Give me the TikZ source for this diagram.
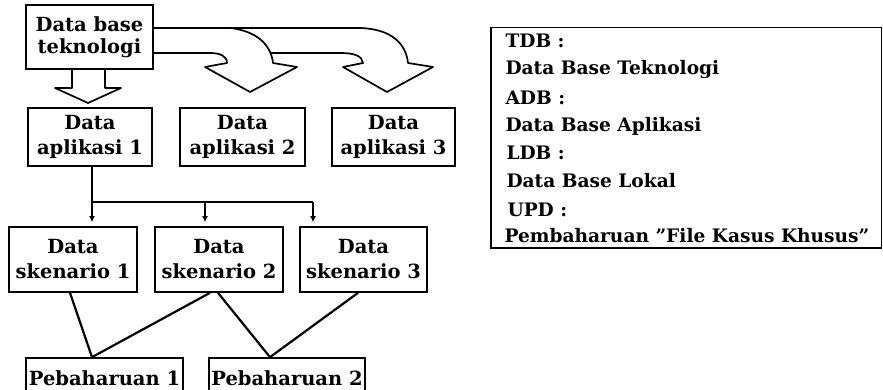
\documentclass[tikz,border=0pt]{standalone}
\usepackage{fontspec}
\setmainfont{DejaVu Serif}
\usetikzlibrary{arrows.meta}
\begin{document}
\begin{tikzpicture}[x=1pt,y=-1pt,
  lbl/.style={font=\fontsize{18.6}{22}\selectfont\bfseries},
  box/.style={draw, line width=1.7pt, fill=white, inner sep=0pt, align=center,
    font=\fontsize{19.5}{25}\selectfont\bfseries},
  conn/.style={line width=2.2pt},
  fat/.style={draw, line width=1.7pt, fill=white, line join=round},
  tip/.style={-{Latex[length=6pt,width=6pt]}, shorten >=4pt}]
\useasboundingbox (0,0) rectangle (883,390);

% curved fat arrows (behind the source box)
\path[fat] (152,28) -- (360,28) .. controls (392,29) and (406,44) .. (408,63)
  -- (433,67) -- (387,92) -- (343,67) -- (363,63)
  .. controls (362,56) and (355,53) .. (340,53) -- (152,53) -- cycle;
\path[fat] (152,28) -- (230,28) .. controls (257,31) and (271,45) .. (273,63)
  -- (297,67) -- (250,92) -- (205,67) -- (227,63)
  .. controls (227,56) and (220,53) .. (210,53) -- (152,53) -- cycle;
% straight fat arrow
\path[fat] (72,68) -- (72,88) -- (55,88) -- (88,103) -- (121,88) -- (105,88) -- (105,68) -- cycle;

\node[box, minimum width=127pt, minimum height=64pt,
  font=\fontsize{19.5}{22}\selectfont\bfseries] (tdb) at (89.5,37) {Data base\\teknologi};

\node[box, minimum width=124pt, minimum height=58pt] (apl1) at (90,137) {Data\\aplikasi 1};
\node[box, minimum width=125pt, minimum height=58pt] (apl2) at (242.5,137) {Data\\aplikasi 2};
\node[box, minimum width=123pt, minimum height=58pt] (apl3) at (393.5,137) {Data\\aplikasi 3};

\node[box, minimum width=128pt, minimum height=65pt] (sk1) at (73,259.5) {Data\\skenario 1};
\node[box, minimum width=128pt, minimum height=65pt] (sk2) at (219,259.5) {Data\\skenario 2};
\node[box, minimum width=127pt, minimum height=65pt] (sk3) at (363.5,259.5) {Data\\skenario 3};

\node[box, minimum width=157pt, minimum height=40pt] (p1) at (104.5,378) {Pebaharuan 1};
\node[box, minimum width=156pt, minimum height=40pt] (p2) at (287,378) {Pebaharuan 2};

% tree connectors
\coordinate (b1) at ([xshift=2pt]apl1.south |- 0,202);
\coordinate (b2) at (205,202);
\coordinate (b3) at (313,202);
\draw[conn] ([xshift=2pt]apl1.south) -- (b1) -- (b3);
\draw[conn,tip] (b1) -- (b1 |- sk1.north);
\draw[conn,tip] (b2) -- (b2 |- sk2.north);
\draw[conn,tip] (b3) -- (b3 |- sk3.north);

\draw[conn] ([xshift=-3pt]sk1.south) -- ([xshift=-12.5pt]p1.north);
\draw[conn] ([xshift=-9pt]sk2.south) -- ([xshift=-12.5pt]p1.north);
\draw[conn] ([xshift=-1pt]sk2.south) -- ([xshift=-17pt]p2.north);
\draw[conn] ([xshift=-5.5pt]sk3.south) -- ([xshift=-17pt]p2.north);

% legend
\node[draw, line width=1pt, minimum width=390pt, minimum height=220pt, inner sep=0pt,
  anchor=north west] (leg) at (491,27) {};
\draw[line width=2.5pt] (leg.north west) -- (leg.south west) -- (leg.south east);
\node[lbl, anchor=base west] (l1) at (502,48) {TDB :};
\node[lbl, anchor=base west] (l2) at (502,75) {Data Base Teknologi};
\node[lbl, anchor=base west] (l3) at (502,105) {ADB :};
\node[lbl, anchor=base west] (l4) at (502,132) {Data Base Aplikasi};
\node[lbl, anchor=base west] (l5) at (503,160) {LDB :};
\node[lbl, anchor=base west] (l6) at (503,188) {Data Base Lokal};
\node[lbl, anchor=base west] (l7) at (504,216) {UPD :};
\node[lbl, anchor=base west] (l8) at (501,242) {Pembaharuan "File Kasus Khusus"};
\end{tikzpicture}
\end{document}
